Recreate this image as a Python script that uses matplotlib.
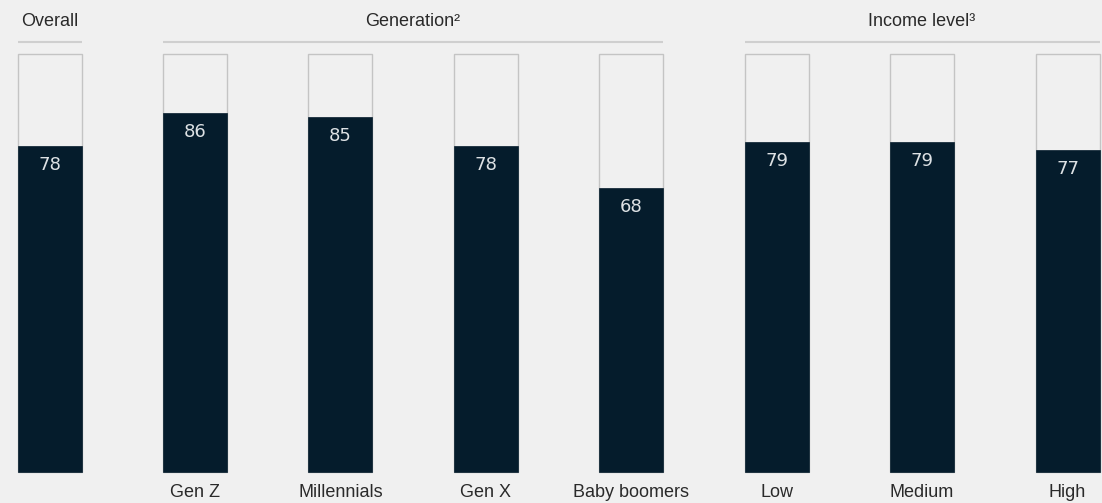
import matplotlib
matplotlib.use("Agg")
import matplotlib.pyplot as plt

# Share of respondents (%), by segment
categories = ["Overall", "Gen Z", "Millennials", "Gen X", "Baby boomers", "Low", "Medium", "High"]
tick_labels = ["", "Gen Z", "Millennials", "Gen X", "Baby boomers", "Low", "Medium", "High"]
values = [78, 86, 85, 78, 68, 79, 79, 77]

# Group headers: (title, first index, last index)
groups = [("Overall", 0, 0), ("Generation\u00b2", 1, 4), ("Income level\u00b3", 5, 7)]

BG = "#f0f0f0"
DARK = "#051c2c"
OUTLINE = "#c4c4c4"
RULE = "#cfcfcf"
TEXT = "#2a2a2a"

plt.rcParams["font.family"] = ["Liberation Sans", "DejaVu Sans"]

fig = plt.figure(figsize=(11.02, 5.03), dpi=100, facecolor=BG)
ax = fig.add_axes([0, 0, 1, 1], facecolor=BG)

width = 0.44
x = list(range(len(categories)))

# Outline box for the full 100% scale
ax.bar(x, [100] * len(x), width=width, color=BG, edgecolor=OUTLINE, linewidth=1.0, zorder=1)
# Filled share
ax.bar(x, values, width=width, color=DARK, edgecolor=DARK, linewidth=0.5, zorder=2)

for xi, v in zip(x, values):
    ax.text(xi, v - 4.6, f"{v}", ha="center", va="center", color="#dde1e4",
            fontsize=13, family=["DejaVu Sans"], zorder=3)

for xi, lab in zip(x, tick_labels):
    ax.text(xi, -5.0, lab, ha="center", va="center", color=TEXT, fontsize=13)

for title, i0, i1 in groups:
    left = i0 - width / 2
    right = i1 + width / 2
    ax.plot([left, right], [102.9, 102.9], color=RULE, linewidth=1.5, solid_capstyle="butt")
    ax.text((left + right) / 2, 107.7, title, ha="center", va="center",
            color=TEXT, fontsize=13)

ax.set_xlim(-0.3404, 7.237)
ax.set_ylim(-7.416, 112.92)
ax.axis("off")

fig.savefig("out.png", dpi=100, facecolor=BG)
